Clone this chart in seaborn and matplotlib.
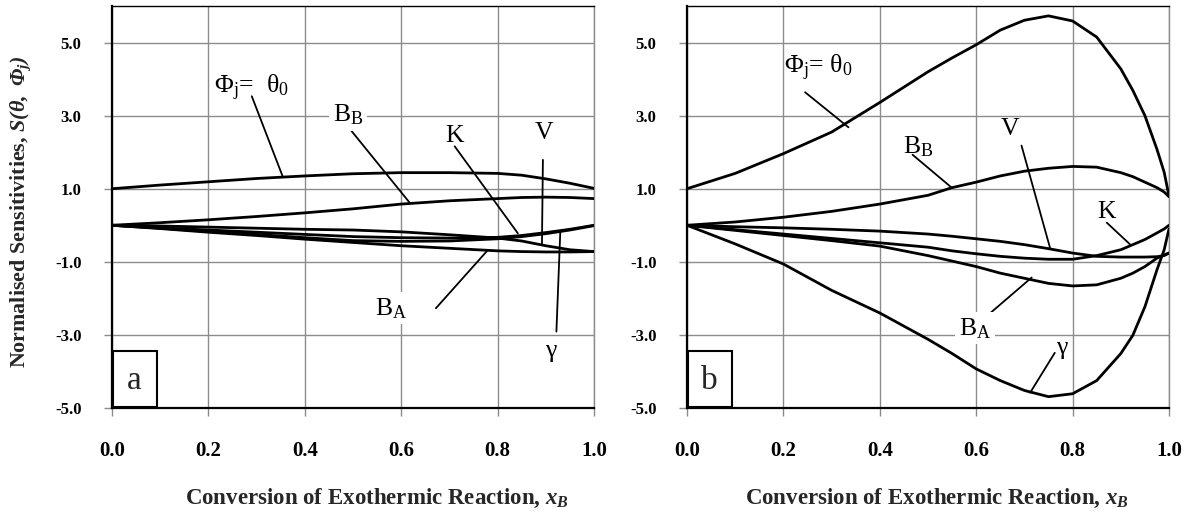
import numpy as np
import pandas as pd
import matplotlib
matplotlib.use("Agg")
import matplotlib.pyplot as plt
import seaborn as sns

# ---------------- data ----------------
x_a = [0.0, 0.1, 0.2, 0.3, 0.4, 0.5, 0.6, 0.7, 0.8, 0.85, 0.9, 0.95, 1.0]
theta0_a = [1.00, 1.10, 1.19, 1.28, 1.35, 1.41, 1.44, 1.44, 1.42, 1.37, 1.27, 1.15, 1.01]
BB_a = [0.00, 0.07, 0.15, 0.24, 0.34, 0.45, 0.58, 0.67, 0.73, 0.76, 0.77, 0.76, 0.73]
V_a = [0.00, -0.02, -0.05, -0.08, -0.11, -0.13, -0.18, -0.26, -0.35, -0.43, -0.56, -0.67, -0.72]
K_a = [0.00, -0.07, -0.13, -0.19, -0.25, -0.31, -0.34, -0.35, -0.33, -0.28, -0.20, -0.11, 0.00]
gamma_a = [0.00, -0.08, -0.17, -0.25, -0.34, -0.42, -0.44, -0.43, -0.37, -0.31, -0.23, -0.13, -0.01]
BA_a = [0.00, -0.09, -0.19, -0.28, -0.38, -0.47, -0.56, -0.63, -0.70, -0.72, -0.73, -0.73, -0.72]

x_b = [0.0, 0.1, 0.2, 0.3, 0.4, 0.5, 0.55, 0.6, 0.65, 0.7, 0.75, 0.8, 0.85,
       0.9, 0.925, 0.95, 0.975, 0.99, 1.0]
theta0_b = [1.00, 1.42, 1.96, 2.55, 3.36, 4.20, 4.58, 4.94, 5.34, 5.61, 5.73, 5.59, 5.15,
            4.28, 3.69, 3.00, 2.08, 1.45, 0.80]
BB_b = [0.00, 0.09, 0.22, 0.38, 0.58, 0.82, 1.03, 1.18, 1.35, 1.48, 1.56, 1.61, 1.59,
        1.44, 1.33, 1.18, 1.03, 0.91, 0.78]
V_b = [0.00, -0.04, -0.07, -0.11, -0.16, -0.24, -0.30, -0.37, -0.44, -0.53, -0.64, -0.76, -0.85,
       -0.87, -0.87, -0.87, -0.86, -0.83, -0.76]
K_b = [0.00, -0.12, -0.24, -0.36, -0.48, -0.60, -0.70, -0.78, -0.85, -0.90, -0.93, -0.93, -0.83,
       -0.67, -0.53, -0.39, -0.21, -0.10, 0.00]
BA_b = [0.00, -0.14, -0.28, -0.42, -0.57, -0.83, -0.98, -1.13, -1.31, -1.45, -1.59, -1.66, -1.63,
        -1.45, -1.31, -1.13, -0.90, -0.81, -0.76]
gamma_b = [0.00, -0.51, -1.06, -1.78, -2.40, -3.12, -3.51, -3.93, -4.25, -4.52, -4.69, -4.61, -4.25,
           -3.51, -3.01, -2.23, -1.22, -0.67, -0.10]

x_ticks = [0.0, 0.2, 0.4, 0.6, 0.8, 1.0]
x_tick_labels = ["0.0", "0.2", "0.4", "0.6", "0.8", "1.0"]
y_ticks = [-5, -3, -1, 1, 3, 5]
y_tick_labels = ["-5.0", "-3.0", "-1.0", "1.0", "3.0", "5.0"]

series_names = ["theta0", "BB", "V", "K", "gamma", "BA"]
series_a = [theta0_a, BB_a, V_a, K_a, gamma_a, BA_a]
series_b = [theta0_b, BB_b, V_b, K_b, gamma_b, BA_b]

PHI_LABEL_A = "Φ$_\\mathregular{j}$=  θ$_\\mathregular{0}$"
PHI_LABEL_B = "Φ$_\\mathregular{j}$= θ$_\\mathregular{0}$"
BB_LABEL = "B$_\\mathregular{B}$"
BA_LABEL = "B$_\\mathregular{A}$"

# label text, label position, leader start, leader end, white background
labels_a = [
    (PHI_LABEL_A, (0.29, 3.77), (0.29, 3.53), (0.354, 1.34), False),
    (BB_LABEL, (0.49, 3.03), (0.492, 2.66), (0.618, 0.61), True),
    ("K", (0.711, 2.43), (0.711, 2.16), (0.842, -0.22), False),
    ("V", (0.897, 2.53), (0.894, 1.79), (0.892, -0.53), False),
    (BA_LABEL, (0.58, -2.27), (0.672, -2.27), (0.779, -0.69), True),
    ("γ", (0.91, -3.45), (0.922, -2.91), (0.930, -0.20), False),
]
labels_b = [
    (PHI_LABEL_B, (0.272, 4.31), (0.245, 3.64), (0.335, 2.68), False),
    (BB_LABEL, (0.48, 2.16), (0.468, 1.93), (0.55, 1.02), False),
    ("V", (0.67, 2.64), (0.694, 2.18), (0.753, -0.61), False),
    ("K", (0.871, 0.35), (0.871, 0.07), (0.919, -0.52), False),
    (BA_LABEL, (0.598, -2.82), (0.618, -2.53), (0.715, -1.43), True),
    ("γ", (0.777, -3.35), (0.763, -3.49), (0.712, -4.58), False),
]

# ---------------- style ----------------
sns.set_theme(style="white")
plt.rcParams["font.family"] = ["Liberation Serif", "DejaVu Serif"]
plt.rcParams["axes.unicode_minus"] = False
plt.rcParams["mathtext.fontset"] = "custom"
plt.rcParams["mathtext.rm"] = "Liberation Serif:bold"
plt.rcParams["mathtext.bf"] = "Liberation Serif:bold"
plt.rcParams["mathtext.it"] = "Liberation Serif:bold:italic"
plt.rcParams["mathtext.bfit"] = "Liberation Serif:bold:italic"

fig = plt.figure(figsize=(11.92, 5.15), dpi=100)
ax_a = fig.add_axes([112 / 1192, 107 / 515, 482 / 1192, 402 / 515])
ax_b = fig.add_axes([687 / 1192, 107 / 515, 482 / 1192, 402 / 515])


def long_frame(xs, series):
    rows = []
    for name, ys in zip(series_names, series):
        for xv, yv in zip(xs, ys):
            rows.append({"x": xv, "y": yv, "series": name})
    return pd.DataFrame(rows)


def draw_panel(ax, xs, series, labels, letter):
    df = long_frame(xs, series)
    sns.lineplot(data=df, x="x", y="y", units="series", estimator=None,
                 color="black", lw=2.0, sort=False, ax=ax, zorder=3)
    ax.set_xlim(0, 1)
    ax.set_ylim(-5, 6)
    ax.set_xticks(x_ticks)
    ax.set_xticklabels(x_tick_labels, fontsize=15, fontweight="bold")
    ax.set_yticks(y_ticks)
    ax.set_yticklabels(y_tick_labels, fontsize=12, fontweight="bold")
    ax.grid(True, color="#8c8c8c", lw=1.0)
    ax.set_axisbelow(True)
    ax.tick_params(axis="both", direction="out", length=6, width=1.0,
                   color="#8c8c8c", colors="black")
    ax.tick_params(axis="x", pad=18, bottom=True)
    ax.tick_params(axis="y", pad=16, left=True)
    ax.set_xlabel("")
    ax.set_ylabel("")
    for side in ["left", "bottom"]:
        ax.spines[side].set_color("black")
        ax.spines[side].set_linewidth(1.6)
    ax.spines["top"].set_color("black")
    ax.spines["top"].set_linewidth(1.0)
    ax.spines["right"].set_color("#8c8c8c")
    ax.spines["right"].set_linewidth(1.0)

    for text, pos, start, end, bg in labels:
        ax.annotate("", xy=end, xytext=start,
                    arrowprops=dict(arrowstyle="-", lw=1.3, color="black",
                                    shrinkA=0, shrinkB=0), zorder=4)
        kw = {}
        if bg:
            kw["bbox"] = dict(boxstyle="square,pad=0.15", fc="white", ec="none")
        ax.text(pos[0], pos[1], text, fontsize=18.5, ha="center", va="center",
                fontweight="normal", color="black", zorder=5, **kw)

    ax.text(0.047, 0.069, letter, transform=ax.transAxes, fontsize=24,
            ha="center", va="center", fontweight="normal", zorder=6)
    rect = plt.Rectangle((0.003, 0.003), 0.091, 0.138, transform=ax.transAxes,
                         fill=True, fc="white", ec="black", lw=1.5, zorder=5)
    ax.add_patch(rect)


draw_panel(ax_a, x_a, series_a, labels_a, "a")
draw_panel(ax_b, x_b, series_b, labels_b, "b")

xlabel = "Conversion of Exothermic Reaction, $\\mathbfit{x}_{\\mathbfit{B}}$"
fig.text(377 / 1192, 17 / 515, xlabel, fontsize=16.5, fontweight="bold",
         ha="center", va="center")
fig.text(937 / 1192, 17 / 515, xlabel, fontsize=16.5, fontweight="bold",
         ha="center", va="center")
fig.text(21 / 1192, (515 - 212) / 515,
         "Normalised Sensitivities, $\\mathbfit{S(θ,\\ Φ_j)}$",
         fontsize=15.8, fontweight="bold", rotation=90, ha="center", va="center")

fig.savefig("out.png", dpi=100, facecolor="white")
